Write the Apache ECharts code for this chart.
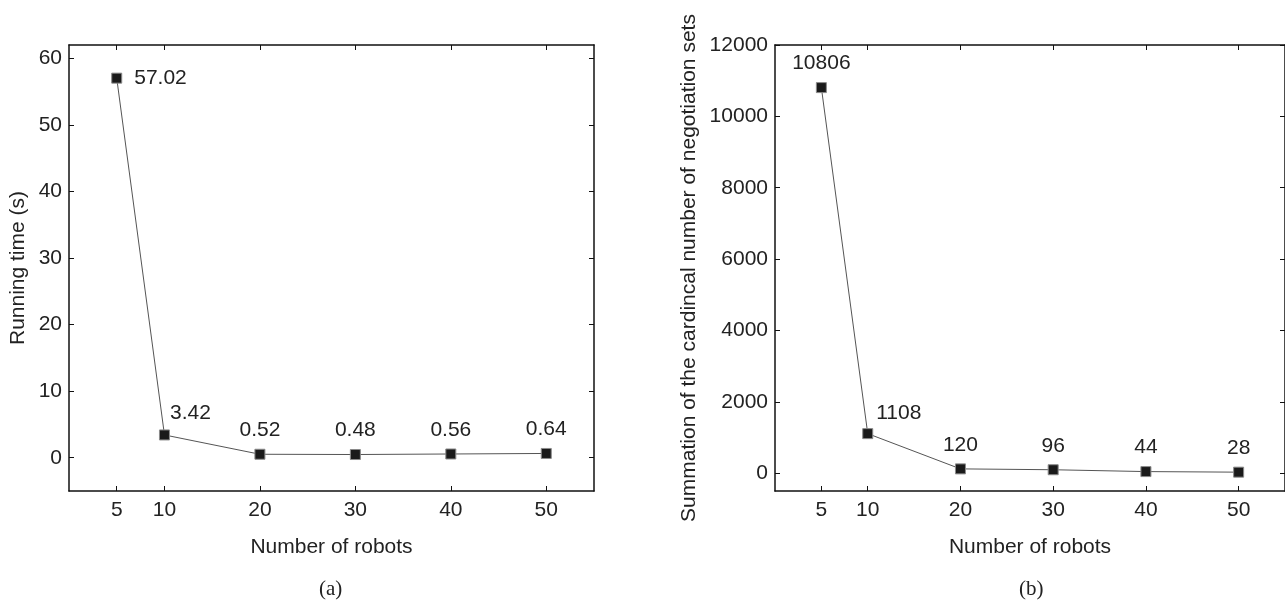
<!DOCTYPE html>
<html>
<head>
<meta charset="utf-8">
<script src="https://cdn.jsdelivr.net/npm/echarts@6/dist/echarts.min.js"></script>
<style>
html, body { margin: 0; padding: 0; background: #fff; }
#chart { width: 1285px; height: 605px; }
</style>
</head>
<body>
<div id="chart"></div>
<script>
// data
const robots = [5, 10, 20, 30, 40, 50];
const xTicks = [5, 10, 20, 30, 40, 50];
const runningTime = [57.02, 3.42, 0.52, 0.48, 0.56, 0.64];
const runningTicks = [0, 10, 20, 30, 40, 50, 60];
const cardinalSum = [10806, 1108, 120, 96, 44, 28];
const cardinalTicks = [0, 2000, 4000, 6000, 8000, 10000, 12000];

const FONT = '"Liberation Sans", Arial, Helvetica, sans-serif';
const INK = '#222';
const SIZE = 21;

const chart = echarts.init(document.getElementById('chart'));

// x axis (bottom with labels, top mirror only ticks)
function xAxisOf(grid, pos, withLabels) {
    return {
        type: 'value',
        gridIndex: grid,
        position: pos,
        min: 0,
        max: 55,
        name: withLabels ? 'Number of robots' : '',
        nameLocation: 'middle',
        nameGap: 46,
        nameTextStyle: { color: INK, fontSize: SIZE, fontFamily: FONT },
        axisLine: { show: true, onZero: false, lineStyle: { color: '#111', width: 1.5 } },
        axisTick: { show: true, inside: true, length: 5, customValues: xTicks, lineStyle: { color: '#111' } },
        axisLabel: { show: withLabels, customValues: xTicks, margin: 9, color: INK, fontSize: SIZE, fontFamily: FONT },
        splitLine: { show: false }
    };
}

function yAxisOf(grid, pos, withLabels, min, max, ticks, name, gap) {
    return {
        type: 'value',
        gridIndex: grid,
        position: pos,
        min: min,
        max: max,
        name: withLabels ? name : '',
        nameLocation: 'middle',
        nameGap: gap,
        nameTextStyle: { color: INK, fontSize: SIZE, fontFamily: FONT },
        axisLine: { show: true, onZero: false, lineStyle: { color: '#111', width: 1.5 } },
        axisTick: { show: true, inside: true, length: 5, customValues: ticks, lineStyle: { color: '#111' } },
        axisLabel: {
            show: withLabels, customValues: ticks, margin: 7,
            color: INK, fontSize: SIZE, fontFamily: FONT,
            formatter: v => String(v)
        },
        splitLine: { show: false }
    };
}

// 数据点 + 标签
function points(xs, ys, shifted) {
    return xs.map((x, i) => {
        const item = { value: [x, ys[i]] };
        if (shifted[i]) item.label = shifted[i];
        return item;
    });
}

const lineSeries = {
    type: 'line',
    symbol: 'rect',
    symbolSize: 10,
    itemStyle: { color: '#1a1a1a', borderColor: '#8a8a8a', borderWidth: 1 },
    lineStyle: { color: '#555', width: 1 },
    label: {
        show: true,
        position: 'top',
        distance: 8,
        color: INK,
        fontSize: SIZE,
        fontFamily: FONT,
        formatter: p => String(p.value[1])
    },
    animation: false
};

chart.setOption({
    backgroundColor: '#fff',
    grid: [
        { left: 69, top: 45, width: 525, height: 446 },
        { left: 775, top: 45, width: 513, height: 446 }
    ],
    xAxis: [
        xAxisOf(0, 'bottom', true),
        xAxisOf(0, 'top', false),
        xAxisOf(1, 'bottom', true),
        xAxisOf(1, 'top', false)
    ],
    yAxis: [
        yAxisOf(0, 'left', true, -5, 62, runningTicks, 'Running time (s)', 40),
        yAxisOf(0, 'right', false, -5, 62, runningTicks, '', 0),
        yAxisOf(1, 'left', true, -500, 12000, cardinalTicks,
            'Summation of the cardincal number of negotiation sets', 75),
        yAxisOf(1, 'right', false, -500, 12000, cardinalTicks, '', 0)
    ],
    series: [
        Object.assign({}, lineSeries, {
            xAxisIndex: 0,
            yAxisIndex: 0,
            data: points(robots, runningTime, {
                0: { position: 'right', distance: 12 },
                1: { position: 'top', distance: 6, offset: [26, 0] }
            })
        }),
        Object.assign({}, lineSeries, {
            xAxisIndex: 2,
            yAxisIndex: 2,
            data: points(robots, cardinalSum, {
                1: { position: 'top', distance: 4, offset: [31, 0] }
            })
        })
    ],
    // 子图标题 (a) (b)
    graphic: [
        {
            type: 'text', left: 331 - 12, top: 579,
            style: { text: '(a)', fill: INK, fontSize: SIZE, fontFamily: '"Liberation Serif", "Times New Roman", serif' }
        },
        {
            type: 'text', left: 1031 - 12, top: 579,
            style: { text: '(b)', fill: INK, fontSize: SIZE, fontFamily: '"Liberation Serif", "Times New Roman", serif' }
        }
    ]
});
</script>
</body>
</html>
